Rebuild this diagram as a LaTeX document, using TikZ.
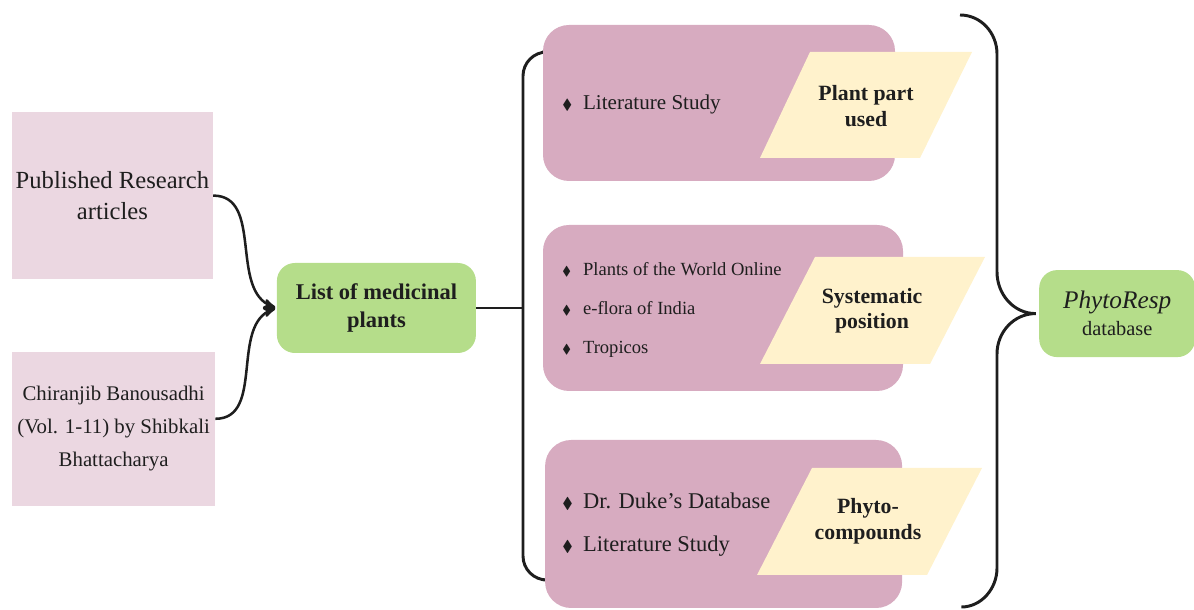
\documentclass[tikz,border=0pt]{standalone}
\usepackage{amssymb}
\usepackage{fontspec}
\setmainfont{Liberation Serif}
\usetikzlibrary{arrows,calc}
\definecolor{srcpink}{HTML}{EBD7E1}
\definecolor{stagepink}{HTML}{D7ABC0}
\definecolor{listgreen}{HTML}{B5DD8A}
\definecolor{tagyellow}{HTML}{FFF2CC}
\definecolor{ink}{HTML}{1E1E1E}
\newcommand{\bul}{\makebox[0.52cm][l]{$\scriptstyle\blacklozenge$}}

\begin{document}
\begin{tikzpicture}[>=stealth',shorten >=1pt,text=ink,
      src/.style={fill=srcpink,align=center,inner sep=0pt},
      hub/.style={fill=listgreen,rounded corners=0.45cm,align=center,inner sep=0pt},
      stage/.style={fill=stagepink,rounded corners=0.65cm,inner sep=0pt},
      items/.style={anchor=west,align=left,inner sep=0pt},
      tag/.style={fill=tagyellow},
      tagtext/.style={align=center,font=\bfseries\fontsize{15.5}{18}\selectfont},
      brace/.style={draw=ink,line width=2.1pt,rounded corners=0.6cm},
      link/.style={draw=ink,line width=1.8pt}]
      \useasboundingbox (0,0) rectangle (29.85,15.25);

      \node[src,minimum width=5.025cm,minimum height=4.175cm,
        font=\fontsize{17.5}{22.5}\selectfont] (articles) at (2.81,10.36)
        { Published Research\\articles };
      \node[src,minimum width=5.075cm,minimum height=3.85cm,
        font=\fontsize{14.8}{23.5}\selectfont] (banousadhi) at (2.84,4.53)
        { Chiranjib Banousadhi\\(Vol. 1-11) by Shibkali\\Bhattacharya };
      \node[hub,minimum width=4.975cm,minimum height=2.25cm,
        font=\bfseries\fontsize{16}{20.6}\selectfont] (list) at (9.41,7.55)
        { List of medicinal\\plants };
      \node[hub,minimum width=3.9cm,minimum height=2.175cm] (db) at (27.93,7.41)
        { {\itshape\fontsize{18}{20.6}\selectfont PhytoResp}\\[4pt]
          {\fontsize{14.5}{18}\selectfont database} };

      \coordinate (lb) at (13.075,7.55);
      \coordinate (rb) at ($(db.west)+(-0.08,0)$);

      \draw[link,->] (articles.east) to [out=0,in=160] (list.west);
      \draw[link,->] ([yshift=0.25cm]banousadhi.east) to [out=0,in=200] (list.west);
      \draw[link] (list.east) -- (lb);

      \draw[brace] (13.55,13.95) -| (lb) |- (13.55,0.75);
      \draw[brace,rounded corners=0pt] (24,14.875) to[out=0,in=90] (24.925,13.9)
        -- (24.925,8.45) to[out=-90,in=180] (rb) to[out=180,in=90] (24.925,6.4)
        -- (24.925,1.05) to[out=-90,in=0] (24,0.075);

      \node[stage,minimum width=8.8cm,minimum height=3.9cm] (partbox) at (17.975,12.675) {};
      \node[stage,minimum width=9cm,minimum height=4.15cm] (sysbox) at (18.075,7.55) {};
      \node[stage,minimum width=8.925cm,minimum height=4.2cm] (compbox) at (18.09,2.15) {};

      \fill[tag] (20.25,13.95) -- (24.3,13.95) -- (23,11.3) -- (19,11.3) -- cycle;
      \fill[tag] (20.375,8.825) -- (24.625,8.825) -- (23.25,6.15) -- (19,6.15) -- cycle;
      \fill[tag] (20.3,3.55) -- (24.55,3.55) -- (23.175,0.875) -- (18.925,0.875) -- cycle;

      \node[tagtext] (parttag) at (21.65,12.6) { Plant part\\used };
      \node[tagtext] (systag) at (21.8,7.48) { Systematic\\position };
      \node[tagtext] (comptag) at (21.7,2.22) { Phyto-\\compounds };

      \node[items,font=\fontsize{15}{20}\selectfont] (partlist) at (14.05,12.65)
        { \bul Literature Study };
      \node[items,font=\fontsize{13.2}{27.6}\selectfont] (syslist) at (14.05,7.5)
        { \bul Plants of the World Online\\ \bul e-flora of India\\ \bul Tropicos };
      \node[items,font=\fontsize{16}{30.5}\selectfont] (complist) at (14.05,2.14)
        { \bul Dr. Duke's Database\\ \bul Literature Study };
\end{tikzpicture}
\end{document}
